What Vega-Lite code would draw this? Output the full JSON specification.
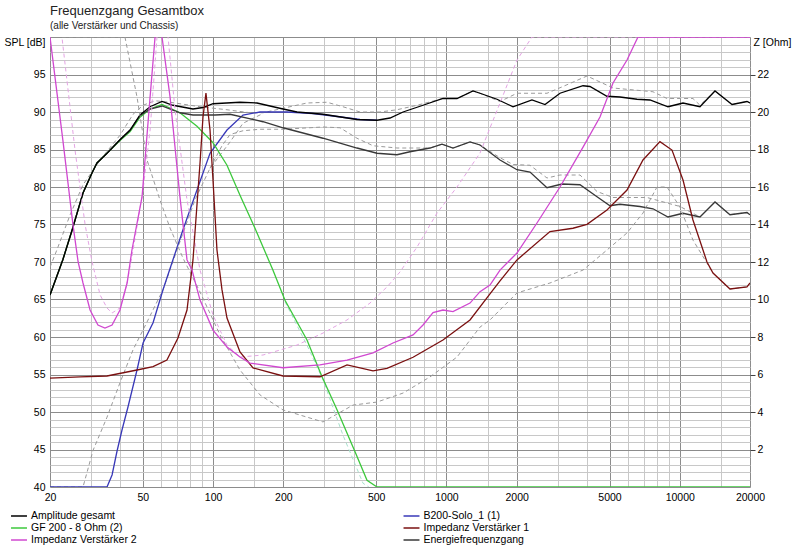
{
"$schema":"https://vega.github.io/schema/vega-lite/v6.json",
"width":700,"height":450,
"autosize":{"type":"none"},
"padding":{"left":50,"top":37,"right":50,"bottom":67},
"background":"white",
"title":{"text":"Frequenzgang Gesamtbox","subtitle":"(alle Verstärker und Chassis)","anchor":"start","frame":"group","font":"Liberation Sans","fontSize":13,"fontWeight":"normal","color":"#222222","subtitleFont":"Liberation Sans","subtitleFontSize":10,"subtitleColor":"#222222","offset":6,"subtitlePadding":3},
"datasets":{
"spl":[
{"curve":"Vergleich 1","freq":20,"level":69.3},{"curve":"Vergleich 1","freq":21.4,"level":71.6},{"curve":"Vergleich 1","freq":24.4,"level":76.3},{"curve":"Vergleich 1","freq":27.7,"level":80.3},{"curve":"Vergleich 1","freq":32.8,"level":83.6},{"curve":"Vergleich 1","freq":39.9,"level":86.9},{"curve":"Vergleich 1","freq":45.4,"level":89.7},{"curve":"Vergleich 1","freq":50.1,"level":90.9},{"curve":"Vergleich 1","freq":56.4,"level":91.5},{"curve":"Vergleich 1","freq":65.4,"level":91.3},{"curve":"Vergleich 1","freq":87.9,"level":90.7},{"curve":"Vergleich 1","freq":114.7,"level":90.3},{"curve":"Vergleich 1","freq":143.9,"level":89.9},{"curve":"Vergleich 1","freq":163.7,"level":89.9},{"curve":"Vergleich 1","freq":199.4,"level":90.5},{"curve":"Vergleich 1","freq":252.6,"level":91.2},{"curve":"Vergleich 1","freq":307.8,"level":91.3},{"curve":"Vergleich 1","freq":360.4,"level":90.7},{"curve":"Vergleich 1","freq":426.3,"level":90.0},{"curve":"Vergleich 1","freq":519.3,"level":90.0},{"curve":"Vergleich 1","freq":613.9,"level":90.3},{"curve":"Vergleich 1","freq":748.3,"level":90.9},{"curve":"Vergleich 1","freq":966.5,"level":91.8},{"curve":"Vergleich 1","freq":1110,"level":91.8},{"curve":"Vergleich 1","freq":1300,"level":92.8},{"curve":"Vergleich 1","freq":1393,"level":92.5},{"curve":"Vergleich 1","freq":1697,"level":91.4},{"curve":"Vergleich 1","freq":2006,"level":92.5},{"curve":"Vergleich 1","freq":2698,"level":92.5},{"curve":"Vergleich 1","freq":3158,"level":93.4},{"curve":"Vergleich 1","freq":4004,"level":94.8},{"curve":"Vergleich 1","freq":5176,"level":93.2},{"curve":"Vergleich 1","freq":7678,"level":92.7},{"curve":"Vergleich 1","freq":8818,"level":91.8},{"curve":"Vergleich 1","freq":11392,"level":91.8},{"curve":"Vergleich 1","freq":12206,"level":90.9},{"curve":"Vergleich 1","freq":14158,"level":92.8},{"curve":"Vergleich 1","freq":16750,"level":91.0},{"curve":"Vergleich 1","freq":19414,"level":91.4},{"curve":"Vergleich 1","freq":20000,"level":91.2},
{"curve":"Vergleich 2","freq":20,"level":40},{"curve":"Vergleich 2","freq":27.7,"level":40},{"curve":"Vergleich 2","freq":30.6,"level":44.9},{"curve":"Vergleich 2","freq":35.1,"level":49.3},{"curve":"Vergleich 2","freq":39.9,"level":53.9},{"curve":"Vergleich 2","freq":45.4,"level":58.3},{"curve":"Vergleich 2","freq":52.1,"level":62.0},{"curve":"Vergleich 2","freq":61.0,"level":66.3},{"curve":"Vergleich 2","freq":70.0,"level":71.6},{"curve":"Vergleich 2","freq":83.7,"level":78.3},{"curve":"Vergleich 2","freq":97,"level":82.5},{"curve":"Vergleich 2","freq":109.2,"level":84.6},{"curve":"Vergleich 2","freq":118.2,"level":86.0},{"curve":"Vergleich 2","freq":134.3,"level":88.5},{"curve":"Vergleich 2","freq":163.7,"level":89.8},
{"curve":"Vergleich 3","freq":97,"level":82.5},{"curve":"Vergleich 3","freq":109.2,"level":85.5},{"curve":"Vergleich 3","freq":118.2,"level":87.0},{"curve":"Vergleich 3","freq":134.3,"level":87.5},{"curve":"Vergleich 3","freq":158.9,"level":87.7},{"curve":"Vergleich 3","freq":199.4,"level":87.7},{"curve":"Vergleich 3","freq":295.8,"level":88.0},{"curve":"Vergleich 3","freq":350,"level":87.9},{"curve":"Vergleich 3","freq":413.8,"level":86.5},{"curve":"Vergleich 3","freq":484.6,"level":85.5},{"curve":"Vergleich 3","freq":613.9,"level":85.2},{"curve":"Vergleich 3","freq":748.3,"level":85.2},{"curve":"Vergleich 3","freq":849.9,"level":85.2},{"curve":"Vergleich 3","freq":957.2,"level":85.7},{"curve":"Vergleich 3","freq":1067,"level":85.2},{"curve":"Vergleich 3","freq":1262,"level":86.0},{"curve":"Vergleich 3","freq":1393,"level":85.6},{"curve":"Vergleich 3","freq":1697,"level":83.9},{"curve":"Vergleich 3","freq":1929,"level":83.0},{"curve":"Vergleich 3","freq":2281,"level":82.9},{"curve":"Vergleich 3","freq":2698,"level":81.2},{"curve":"Vergleich 3","freq":3067,"level":81.6},{"curve":"Vergleich 3","freq":3736,"level":81.6},{"curve":"Vergleich 3","freq":4420,"level":79.4},{"curve":"Vergleich 3","freq":5176,"level":78.6},{"curve":"Vergleich 3","freq":7238,"level":78.6},{"curve":"Vergleich 3","freq":10020,"level":77.4},{"curve":"Vergleich 3","freq":12206,"level":76.0},{"curve":"Vergleich 3","freq":14158,"level":78.0},{"curve":"Vergleich 3","freq":16412,"level":76.3},{"curve":"Vergleich 3","freq":19414,"level":76.6},{"curve":"Vergleich 3","freq":20000,"level":76.3},
{"curve":"Vergleich GF","freq":203.3,"level":64.7},{"curve":"Vergleich GF","freq":252.6,"level":58.9},{"curve":"Vergleich GF","freq":295.8,"level":54.3},{"curve":"Vergleich GF","freq":360.4,"level":46.9},{"curve":"Vergleich GF","freq":439.1,"level":40.5},{"curve":"Vergleich GF","freq":465,"level":40},
{"curve":"B200-Solo_1 (1)","freq":20,"level":40},{"curve":"B200-Solo_1 (1)","freq":35.1,"level":40},{"curve":"B200-Solo_1 (1)","freq":36.9,"level":41.6},{"curve":"B200-Solo_1 (1)","freq":38.7,"level":44.7},{"curve":"B200-Solo_1 (1)","freq":40.7,"level":47.6},{"curve":"B200-Solo_1 (1)","freq":43.2,"level":50.7},{"curve":"B200-Solo_1 (1)","freq":47.2,"level":55.6},{"curve":"B200-Solo_1 (1)","freq":50.1,"level":59.2},{"curve":"B200-Solo_1 (1)","freq":55.3,"level":61.9},{"curve":"B200-Solo_1 (1)","freq":61.0,"level":66.3},{"curve":"B200-Solo_1 (1)","freq":67.3,"level":70.3},{"curve":"B200-Solo_1 (1)","freq":74.3,"level":74.3},{"curve":"B200-Solo_1 (1)","freq":85.3,"level":79.6},{"curve":"B200-Solo_1 (1)","freq":97,"level":84.5},{"curve":"B200-Solo_1 (1)","freq":114.7,"level":87.6},{"curve":"B200-Solo_1 (1)","freq":134.3,"level":89.6},{"curve":"B200-Solo_1 (1)","freq":158.9,"level":90.0},{"curve":"B200-Solo_1 (1)","freq":207.4,"level":90.0},{"curve":"B200-Solo_1 (1)","freq":268.1,"level":89.8},{"curve":"B200-Solo_1 (1)","freq":339.7,"level":89.4},{"curve":"B200-Solo_1 (1)","freq":426.3,"level":89.0},{"curve":"B200-Solo_1 (1)","freq":504,"level":88.9},
{"curve":"GF 200 - 8 Ohm (2)","freq":20,"level":65.6},{"curve":"GF 200 - 8 Ohm (2)","freq":22.7,"level":70.3},{"curve":"GF 200 - 8 Ohm (2)","freq":24.9,"level":74.3},{"curve":"GF 200 - 8 Ohm (2)","freq":27.7,"level":79.2},{"curve":"GF 200 - 8 Ohm (2)","freq":30.3,"level":81.9},{"curve":"GF 200 - 8 Ohm (2)","freq":31.8,"level":83.2},{"curve":"GF 200 - 8 Ohm (2)","freq":35.1,"level":84.5},{"curve":"GF 200 - 8 Ohm (2)","freq":39.9,"level":86.2},{"curve":"GF 200 - 8 Ohm (2)","freq":44.1,"level":87.4},{"curve":"GF 200 - 8 Ohm (2)","freq":48.6,"level":89.3},{"curve":"GF 200 - 8 Ohm (2)","freq":53.7,"level":90.4},{"curve":"GF 200 - 8 Ohm (2)","freq":60.4,"level":91.0},{"curve":"GF 200 - 8 Ohm (2)","freq":72.1,"level":89.9},{"curve":"GF 200 - 8 Ohm (2)","freq":85.3,"level":88.1},{"curve":"GF 200 - 8 Ohm (2)","freq":99.9,"level":85.9},{"curve":"GF 200 - 8 Ohm (2)","freq":114.7,"level":82.9},{"curve":"GF 200 - 8 Ohm (2)","freq":130.4,"level":78.9},{"curve":"GF 200 - 8 Ohm (2)","freq":151.2,"level":74.5},{"curve":"GF 200 - 8 Ohm (2)","freq":180.6,"level":68.9},{"curve":"GF 200 - 8 Ohm (2)","freq":203.3,"level":64.9},{"curve":"GF 200 - 8 Ohm (2)","freq":252.6,"level":59.6},{"curve":"GF 200 - 8 Ohm (2)","freq":293,"level":54.7},{"curve":"GF 200 - 8 Ohm (2)","freq":339.7,"level":50.3},{"curve":"GF 200 - 8 Ohm (2)","freq":405.8,"level":44.7},{"curve":"GF 200 - 8 Ohm (2)","freq":456.8,"level":40.9},{"curve":"GF 200 - 8 Ohm (2)","freq":504,"level":40},{"curve":"GF 200 - 8 Ohm (2)","freq":20000,"level":40},
{"curve":"Energiefrequenzgang","freq":20,"level":65.6},{"curve":"Energiefrequenzgang","freq":22.7,"level":70.3},{"curve":"Energiefrequenzgang","freq":24.9,"level":74.3},{"curve":"Energiefrequenzgang","freq":27.7,"level":79.2},{"curve":"Energiefrequenzgang","freq":30.3,"level":81.9},{"curve":"Energiefrequenzgang","freq":31.8,"level":83.2},{"curve":"Energiefrequenzgang","freq":35.1,"level":84.5},{"curve":"Energiefrequenzgang","freq":39.9,"level":86.3},{"curve":"Energiefrequenzgang","freq":44.1,"level":87.6},{"curve":"Energiefrequenzgang","freq":48.6,"level":89.5},{"curve":"Energiefrequenzgang","freq":53.7,"level":90.4},{"curve":"Energiefrequenzgang","freq":60.4,"level":90.8},{"curve":"Energiefrequenzgang","freq":72.1,"level":89.9},{"curve":"Energiefrequenzgang","freq":82,"level":89.6},{"curve":"Energiefrequenzgang","freq":101.9,"level":89.6},{"curve":"Energiefrequenzgang","freq":118.2,"level":89.7},{"curve":"Energiefrequenzgang","freq":163.7,"level":88.7},{"curve":"Energiefrequenzgang","freq":199.4,"level":87.9},{"curve":"Energiefrequenzgang","freq":295.8,"level":86.5},{"curve":"Energiefrequenzgang","freq":413.8,"level":85.2},{"curve":"Energiefrequenzgang","freq":504,"level":84.5},{"curve":"Energiefrequenzgang","freq":613.9,"level":84.3},{"curve":"Energiefrequenzgang","freq":697.9,"level":84.7},{"curve":"Energiefrequenzgang","freq":849.9,"level":85.2},{"curve":"Energiefrequenzgang","freq":957.2,"level":85.7},{"curve":"Energiefrequenzgang","freq":1067,"level":85.2},{"curve":"Energiefrequenzgang","freq":1262,"level":86.0},{"curve":"Energiefrequenzgang","freq":1393,"level":85.6},{"curve":"Energiefrequenzgang","freq":1697,"level":83.6},{"curve":"Energiefrequenzgang","freq":2006,"level":82.3},{"curve":"Energiefrequenzgang","freq":2281,"level":82.0},{"curve":"Energiefrequenzgang","freq":2698,"level":79.9},{"curve":"Energiefrequenzgang","freq":3128,"level":80.4},{"curve":"Energiefrequenzgang","freq":3736,"level":80.3},{"curve":"Energiefrequenzgang","freq":4420,"level":78.7},{"curve":"Energiefrequenzgang","freq":5023,"level":77.5},{"curve":"Energiefrequenzgang","freq":5543,"level":77.7},{"curve":"Energiefrequenzgang","freq":6752,"level":77.4},{"curve":"Energiefrequenzgang","freq":7678,"level":77.1},{"curve":"Energiefrequenzgang","freq":8906,"level":76.0},{"curve":"Energiefrequenzgang","freq":10326,"level":76.5},{"curve":"Energiefrequenzgang","freq":12206,"level":76.0},{"curve":"Energiefrequenzgang","freq":14158,"level":78.0},{"curve":"Energiefrequenzgang","freq":16412,"level":76.3},{"curve":"Energiefrequenzgang","freq":19414,"level":76.6},{"curve":"Energiefrequenzgang","freq":20000,"level":76.3},
{"curve":"Amplitude gesamt","freq":20,"level":65.6},{"curve":"Amplitude gesamt","freq":22.7,"level":70.3},{"curve":"Amplitude gesamt","freq":24.9,"level":74.3},{"curve":"Amplitude gesamt","freq":27.7,"level":79.2},{"curve":"Amplitude gesamt","freq":30.3,"level":81.9},{"curve":"Amplitude gesamt","freq":31.8,"level":83.2},{"curve":"Amplitude gesamt","freq":35.1,"level":84.5},{"curve":"Amplitude gesamt","freq":39.9,"level":86.3},{"curve":"Amplitude gesamt","freq":44.1,"level":87.6},{"curve":"Amplitude gesamt","freq":48.6,"level":89.6},{"curve":"Amplitude gesamt","freq":53.7,"level":90.7},{"curve":"Amplitude gesamt","freq":60.4,"level":91.4},{"curve":"Amplitude gesamt","freq":67.3,"level":90.9},{"curve":"Amplitude gesamt","freq":82,"level":90.4},{"curve":"Amplitude gesamt","freq":90.5,"level":90.6},{"curve":"Amplitude gesamt","freq":99.9,"level":91.1},{"curve":"Amplitude gesamt","freq":130.4,"level":91.3},{"curve":"Amplitude gesamt","freq":154.2,"level":91.2},{"curve":"Amplitude gesamt","freq":199.4,"level":90.4},{"curve":"Amplitude gesamt","freq":228.9,"level":90.0},{"curve":"Amplitude gesamt","freq":295.8,"level":89.7},{"curve":"Amplitude gesamt","freq":413.8,"level":89.0},{"curve":"Amplitude gesamt","freq":504,"level":88.9},{"curve":"Amplitude gesamt","freq":573.1,"level":89.2},{"curve":"Amplitude gesamt","freq":651.8,"level":90.0},{"curve":"Amplitude gesamt","freq":793.8,"level":90.9},{"curve":"Amplitude gesamt","freq":966.5,"level":91.8},{"curve":"Amplitude gesamt","freq":1110,"level":91.8},{"curve":"Amplitude gesamt","freq":1300,"level":92.8},{"curve":"Amplitude gesamt","freq":1393,"level":92.5},{"curve":"Amplitude gesamt","freq":1647,"level":91.7},{"curve":"Amplitude gesamt","freq":1929,"level":90.7},{"curve":"Amplitude gesamt","freq":2326,"level":91.6},{"curve":"Amplitude gesamt","freq":2646,"level":91.0},{"curve":"Amplitude gesamt","freq":3067,"level":92.5},{"curve":"Amplitude gesamt","freq":3850,"level":93.5},{"curve":"Amplitude gesamt","freq":4121,"level":93.4},{"curve":"Amplitude gesamt","freq":4876,"level":92.1},{"curve":"Amplitude gesamt","freq":5543,"level":92.0},{"curve":"Amplitude gesamt","freq":6558,"level":91.7},{"curve":"Amplitude gesamt","freq":7452,"level":91.6},{"curve":"Amplitude gesamt","freq":8906,"level":90.7},{"curve":"Amplitude gesamt","freq":10326,"level":91.2},{"curve":"Amplitude gesamt","freq":12206,"level":90.7},{"curve":"Amplitude gesamt","freq":14158,"level":92.8},{"curve":"Amplitude gesamt","freq":16750,"level":91.0},{"curve":"Amplitude gesamt","freq":19414,"level":91.4},{"curve":"Amplitude gesamt","freq":20000,"level":91.2}
],
"imp":[
{"curve":"Vergleich Z1","freq":22.5,"z":24},{"curve":"Vergleich Z1","freq":41.1,"z":24},{"curve":"Vergleich Z1","freq":41.9,"z":24},{"curve":"Vergleich Z1","freq":47.2,"z":20.8},{"curve":"Vergleich Z1","freq":52.1,"z":17.44},{"curve":"Vergleich Z1","freq":59.2,"z":15.31},{"curve":"Vergleich Z1","freq":65.4,"z":13.81},{"curve":"Vergleich Z1","freq":74.3,"z":12.21},{"curve":"Vergleich Z1","freq":87.9,"z":10.4},{"curve":"Vergleich Z1","freq":107.1,"z":8.11},{"curve":"Vergleich Z1","freq":130.4,"z":6.24},{"curve":"Vergleich Z1","freq":158.9,"z":4.91},{"curve":"Vergleich Z1","freq":199.4,"z":4.11},{"curve":"Vergleich Z1","freq":295.8,"z":3.47},{"curve":"Vergleich Z1","freq":397.9,"z":4.37},{"curve":"Vergleich Z1","freq":504,"z":4.53},{"curve":"Vergleich Z1","freq":651.8,"z":5.01},{"curve":"Vergleich Z1","freq":849.9,"z":5.87},{"curve":"Vergleich Z1","freq":1110,"z":6.93},{"curve":"Vergleich Z1","freq":1393,"z":8.53},{"curve":"Vergleich Z1","freq":1537,"z":8.91},{"curve":"Vergleich Z1","freq":2006,"z":10.35},{"curve":"Vergleich Z1","freq":2778,"z":10.88},{"curve":"Vergleich Z1","freq":3850,"z":11.57},{"curve":"Vergleich Z1","freq":4876,"z":12.64},{"curve":"Vergleich Z1","freq":5942,"z":13.55},{"curve":"Vergleich Z1","freq":6956,"z":14.61},{"curve":"Vergleich Z1","freq":7988,"z":16.0},{"curve":"Vergleich Z1","freq":8818,"z":16.0},{"curve":"Vergleich Z1","freq":10020,"z":14.93},{"curve":"Vergleich Z1","freq":11392,"z":13.17},{"curve":"Vergleich Z1","freq":13882,"z":11.41},{"curve":"Vergleich Z1","freq":16412,"z":10.56},{"curve":"Vergleich Z1","freq":19414,"z":10.67},{"curve":"Vergleich Z1","freq":20000,"z":10.88},
{"curve":"Vergleich Z2","freq":20,"z":26},{"curve":"Vergleich Z2","freq":22.5,"z":24},{"curve":"Vergleich Z2","freq":25.6,"z":17.97},{"curve":"Vergleich Z2","freq":28.3,"z":13.97},{"curve":"Vergleich Z2","freq":30.3,"z":12.0},{"curve":"Vergleich Z2","freq":32.8,"z":10.24},{"curve":"Vergleich Z2","freq":35.1,"z":9.55},{"curve":"Vergleich Z2","freq":36.9,"z":9.28},{"curve":"Vergleich Z2","freq":39.9,"z":9.55},{"curve":"Vergleich Z2","freq":42.8,"z":10.88},{"curve":"Vergleich Z2","freq":45.4,"z":12.64},{"curve":"Vergleich Z2","freq":50.1,"z":15.84},{"curve":"Vergleich Z2","freq":53.7,"z":19.04},{"curve":"Vergleich Z2","freq":57.5,"z":24.0},{"curve":"Vergleich Z2","freq":60.4,"z":26},{"curve":"Vergleich Z2","freq":64.1,"z":24.0},{"curve":"Vergleich Z2","freq":68.7,"z":20.11},{"curve":"Vergleich Z2","freq":77.3,"z":15.31},{"curve":"Vergleich Z2","freq":87.9,"z":11.57},{"curve":"Vergleich Z2","freq":99.9,"z":9.17},{"curve":"Vergleich Z2","freq":114.7,"z":7.57},{"curve":"Vergleich Z2","freq":130.4,"z":6.93},{"curve":"Vergleich Z2","freq":163.7,"z":7.04},{"curve":"Vergleich Z2","freq":228.9,"z":7.57},{"curve":"Vergleich Z2","freq":295.8,"z":8.21},{"curve":"Vergleich Z2","freq":375,"z":8.91},{"curve":"Vergleich Z2","freq":470.4,"z":9.81},{"curve":"Vergleich Z2","freq":556.3,"z":10.67},{"curve":"Vergleich Z2","freq":632.5,"z":11.47},{"curve":"Vergleich Z2","freq":748.3,"z":12.8},{"curve":"Vergleich Z2","freq":911.4,"z":14.61},{"curve":"Vergleich Z2","freq":1110,"z":16.0},{"curve":"Vergleich Z2","freq":1393,"z":17.81},{"curve":"Vergleich Z2","freq":1537,"z":19.15},{"curve":"Vergleich Z2","freq":1697,"z":20.48},{"curve":"Vergleich Z2","freq":2006,"z":22.77},{"curve":"Vergleich Z2","freq":2326,"z":24.0},{"curve":"Vergleich Z2","freq":20000,"z":24.0},
{"curve":"Impedanz Verstärker 1","freq":20,"z":5.81},{"curve":"Impedanz Verstärker 1","freq":26.9,"z":5.87},{"curve":"Impedanz Verstärker 1","freq":35.1,"z":5.92},{"curve":"Impedanz Verstärker 1","freq":47.2,"z":6.24},{"curve":"Impedanz Verstärker 1","freq":55.3,"z":6.42},{"curve":"Impedanz Verstärker 1","freq":63.4,"z":6.77},{"curve":"Impedanz Verstärker 1","freq":70.7,"z":7.95},{"curve":"Impedanz Verstärker 1","freq":77.3,"z":9.44},{"curve":"Impedanz Verstärker 1","freq":82,"z":12.11},{"curve":"Impedanz Verstärker 1","freq":87.9,"z":17.28},{"curve":"Impedanz Verstärker 1","freq":90.5,"z":19.73},{"curve":"Impedanz Verstärker 1","freq":93.2,"z":21.01},{"curve":"Impedanz Verstärker 1","freq":97,"z":19.04},{"curve":"Impedanz Verstärker 1","freq":99.9,"z":16.37},{"curve":"Impedanz Verstärker 1","freq":103.9,"z":12.64},{"curve":"Impedanz Verstärker 1","freq":109.2,"z":10.51},{"curve":"Impedanz Verstärker 1","freq":114.7,"z":9.01},{"curve":"Impedanz Verstärker 1","freq":130.4,"z":7.2},{"curve":"Impedanz Verstärker 1","freq":148.3,"z":6.35},{"curve":"Impedanz Verstärker 1","freq":199.4,"z":5.92},{"curve":"Impedanz Verstärker 1","freq":287.2,"z":5.88},{"curve":"Impedanz Verstärker 1","freq":375,"z":6.51},{"curve":"Impedanz Verstärker 1","freq":484.6,"z":6.19},{"curve":"Impedanz Verstärker 1","freq":556.3,"z":6.33},{"curve":"Impedanz Verstärker 1","freq":719.3,"z":6.92},{"curve":"Impedanz Verstärker 1","freq":966.5,"z":7.84},{"curve":"Impedanz Verstärker 1","freq":1262,"z":8.91},{"curve":"Impedanz Verstärker 1","freq":1537,"z":10.3},{"curve":"Impedanz Verstärker 1","freq":1697,"z":10.99},{"curve":"Impedanz Verstärker 1","freq":2006,"z":12.11},{"curve":"Impedanz Verstärker 1","freq":2778,"z":13.62},{"curve":"Impedanz Verstärker 1","freq":3486,"z":13.8},{"curve":"Impedanz Verstärker 1","freq":4004,"z":14.01},{"curve":"Impedanz Verstärker 1","freq":4876,"z":14.77},{"curve":"Impedanz Verstärker 1","freq":5942,"z":15.84},{"curve":"Impedanz Verstärker 1","freq":6956,"z":17.44},{"curve":"Impedanz Verstärker 1","freq":8225,"z":18.42},{"curve":"Impedanz Verstärker 1","freq":9262,"z":17.97},{"curve":"Impedanz Verstärker 1","freq":10326,"z":16.37},{"curve":"Impedanz Verstärker 1","freq":11392,"z":14.24},{"curve":"Impedanz Verstärker 1","freq":13084,"z":12.0},{"curve":"Impedanz Verstärker 1","freq":13882,"z":11.41},{"curve":"Impedanz Verstärker 1","freq":16412,"z":10.56},{"curve":"Impedanz Verstärker 1","freq":19414,"z":10.67},{"curve":"Impedanz Verstärker 1","freq":20000,"z":10.88},
{"curve":"Impedanz Verstärker 2","freq":20,"z":24.0},{"curve":"Impedanz Verstärker 2","freq":22.7,"z":18.51},{"curve":"Impedanz Verstärker 2","freq":25.1,"z":13.97},{"curve":"Impedanz Verstärker 2","freq":26.4,"z":12.0},{"curve":"Impedanz Verstärker 2","freq":27.7,"z":10.88},{"curve":"Impedanz Verstärker 2","freq":29.7,"z":9.44},{"curve":"Impedanz Verstärker 2","freq":32.1,"z":8.64},{"curve":"Impedanz Verstärker 2","freq":34.4,"z":8.48},{"curve":"Impedanz Verstärker 2","freq":36.9,"z":8.64},{"curve":"Impedanz Verstärker 2","freq":39.9,"z":9.44},{"curve":"Impedanz Verstärker 2","freq":42.8,"z":10.88},{"curve":"Impedanz Verstärker 2","freq":44.9,"z":12.64},{"curve":"Impedanz Verstärker 2","freq":49.6,"z":15.47},{"curve":"Impedanz Verstärker 2","freq":53.7,"z":20.8},{"curve":"Impedanz Verstärker 2","freq":56.4,"z":24.0},{"curve":"Impedanz Verstärker 2","freq":58.1,"z":27},{"curve":"Impedanz Verstärker 2","freq":60.4,"z":24.0},{"curve":"Impedanz Verstärker 2","freq":65.4,"z":20.8},{"curve":"Impedanz Verstärker 2","freq":72.1,"z":15.47},{"curve":"Impedanz Verstärker 2","freq":77.3,"z":12.11},{"curve":"Impedanz Verstärker 2","freq":81.2,"z":11.57},{"curve":"Impedanz Verstärker 2","freq":87.9,"z":9.97},{"curve":"Impedanz Verstärker 2","freq":99.9,"z":8.37},{"curve":"Impedanz Verstärker 2","freq":114.7,"z":7.47},{"curve":"Impedanz Verstärker 2","freq":130.4,"z":6.93},{"curve":"Impedanz Verstärker 2","freq":143.9,"z":6.61},{"curve":"Impedanz Verstärker 2","freq":199.4,"z":6.36},{"curve":"Impedanz Verstärker 2","freq":287.2,"z":6.51},{"curve":"Impedanz Verstärker 2","freq":375,"z":6.77},{"curve":"Impedanz Verstärker 2","freq":484.6,"z":7.15},{"curve":"Impedanz Verstärker 2","freq":590.2,"z":7.68},{"curve":"Impedanz Verstärker 2","freq":719.3,"z":8.11},{"curve":"Impedanz Verstärker 2","freq":793.8,"z":8.64},{"curve":"Impedanz Verstärker 2","freq":876,"z":9.3},{"curve":"Impedanz Verstärker 2","freq":966.5,"z":9.44},{"curve":"Impedanz Verstärker 2","freq":1067,"z":9.35},{"curve":"Impedanz Verstärker 2","freq":1262,"z":9.81},{"curve":"Impedanz Verstärker 2","freq":1393,"z":10.42},{"curve":"Impedanz Verstärker 2","freq":1537,"z":10.77},{"curve":"Impedanz Verstärker 2","freq":1697,"z":11.57},{"curve":"Impedanz Verstärker 2","freq":2006,"z":12.48},{"curve":"Impedanz Verstärker 2","freq":2444,"z":14.08},{"curve":"Impedanz Verstärker 2","freq":3067,"z":16.0},{"curve":"Impedanz Verstärker 2","freq":3850,"z":18.13},{"curve":"Impedanz Verstärker 2","freq":4551,"z":19.73},{"curve":"Impedanz Verstärker 2","freq":5176,"z":21.55},{"curve":"Impedanz Verstärker 2","freq":5942,"z":22.77},{"curve":"Impedanz Verstärker 2","freq":6622,"z":24.0},{"curve":"Impedanz Verstärker 2","freq":20000,"z":24.0}
]
},
"layer":[
{
"data":{"name":"spl"},
"encoding":{
"x":{"field":"freq","type":"quantitative","scale":{"type":"log","domain":[20,20000],"nice":false},
"axis":{"values":[20,30,40,50,60,70,80,90,100,150,200,300,400,500,600,700,800,900,1000,1500,2000,3000,4000,5000,6000,7000,8000,9000,10000,15000,20000],"format":"d","labelExpr":"indexof([20,50,100,200,500,1000,2000,5000,10000,20000], datum.value) >= 0 ? datum.label : ''","grid":true,"gridColor":{"condition":{"test":"indexof([20,50,100,200,500,1000,2000,5000,10000,20000], datum.value) >= 0","value":"#8c8c8c"},"value":"#c8c8c8"},"ticks":false,"domain":false,"labelPadding":5,"labelOverlap":false,"labelFlush":false,"labelBound":false,"title":null}},
"y":{"field":"level","type":"quantitative","scale":{"domain":[40,100],"nice":false,"zero":false},
"axis":{"values":[40,41,42,43,44,45,46,47,48,49,50,51,52,53,54,55,56,57,58,59,60,61,62,63,64,65,66,67,68,69,70,71,72,73,74,75,76,77,78,79,80,81,82,83,84,85,86,87,88,89,90,91,92,93,94,95,96,97,98,99,100],"grid":true,"gridColor":{"condition":{"test":"datum.value % 5 === 0","value":"#8c8c8c"},"value":"#c8c8c8"},"labelExpr":"datum.value === 100 ? 'SPL [dB]' : (datum.value % 5 === 0 ? datum.label : '')","labelBaseline":{"condition":{"test":"datum.value === 100","value":"top"},"value":"middle"},"ticks":false,"domain":false,"labelPadding":5,"labelOverlap":false,"labelFlush":false,"title":null}}
},
"layer":[
{"transform":[{"filter":{"field":"curve","oneOf":["Vergleich 1","Vergleich 2","Vergleich 3"]}}],"mark":{"type":"line","clip":true,"color":"#9a9a9a","strokeWidth":1,"strokeDash":[4,3]},"encoding":{"detail":{"field":"curve","type":"nominal"}}},
{"transform":[{"filter":{"field":"curve","equal":"Vergleich GF"}}],"mark":{"type":"line","clip":true,"color":"#a8e0cc","strokeWidth":1,"strokeDash":[4,3]},"encoding":{}},
{"transform":[{"filter":{"field":"curve","oneOf":["B200-Solo_1 (1)","GF 200 - 8 Ohm (2)","Energiefrequenzgang","Amplitude gesamt"]}}],"mark":{"type":"line","clip":true,"strokeWidth":1.3},
"encoding":{"color":{"field":"curve","type":"nominal","scale":{"domain":["Amplitude gesamt","GF 200 - 8 Ohm (2)","Impedanz Verstärker 2","B200-Solo_1 (1)","Impedanz Verstärker 1","Energiefrequenzgang"],"range":["#000000","#3cc83c","#d048d0","#3838b8","#7a1010","#383838"]},
"legend":{"orient":"none","legendX":-37.5,"legendY":472.5,"columns":2,"columnPadding":262.5,"rowPadding":0,"symbolType":"M-1.45,0L1.45,0","symbolSize":121,"symbolStrokeWidth":1.5,"labelFont":"Liberation Sans","labelFontSize":10.5,"labelColor":"#000000","labelOffset":5.5,"title":null}}}}
]
},
{
"data":{"name":"imp"},
"encoding":{
"x":{"field":"freq","type":"quantitative","scale":{"type":"log","domain":[20,20000],"nice":false},
"axis":{"values":[20,30,40,50,60,70,80,90,100,150,200,300,400,500,600,700,800,900,1000,1500,2000,3000,4000,5000,6000,7000,8000,9000,10000,15000,20000],"format":"d","labelExpr":"indexof([20,50,100,200,500,1000,2000,5000,10000,20000], datum.value) >= 0 ? datum.label : ''","grid":true,"gridColor":{"condition":{"test":"indexof([20,50,100,200,500,1000,2000,5000,10000,20000], datum.value) >= 0","value":"#8c8c8c"},"value":"#c8c8c8"},"ticks":false,"domain":false,"labelPadding":5,"labelOverlap":false,"labelFlush":false,"labelBound":false,"title":null}},
"y":{"field":"z","type":"quantitative","scale":{"domain":[0,24],"nice":false},
"axis":{"orient":"right","values":[0,2,4,6,8,10,12,14,16,18,20,22,24],"grid":false,"labelExpr":"datum.value === 24 ? 'Z [Ohm]' : (datum.value > 0 ? datum.label : '')","labelBaseline":{"condition":{"test":"datum.value === 24","value":"top"},"value":"middle"},"labelPadding":{"condition":{"test":"datum.value === 24","value":-2},"value":2},"tickSize":5,"tickColor":"#404040","tickOpacity":{"condition":{"test":"datum.value === 0 || datum.value === 24","value":0},"value":1},"domain":false,"labelOverlap":false,"labelFlush":false,"title":null}}
},
"layer":[
{"transform":[{"filter":{"field":"curve","equal":"Vergleich Z1"}}],"mark":{"type":"line","clip":true,"color":"#9a9a9a","strokeWidth":1,"strokeDash":[4,3]},"encoding":{}},
{"transform":[{"filter":{"field":"curve","equal":"Vergleich Z2"}}],"mark":{"type":"line","clip":true,"color":"#e4a4e4","strokeWidth":1,"strokeDash":[4,3]},"encoding":{}},
{"transform":[{"filter":{"field":"curve","oneOf":["Impedanz Verstärker 1","Impedanz Verstärker 2"]}}],"mark":{"type":"line","clip":true,"strokeWidth":1.3},
"encoding":{"color":{"field":"curve","type":"nominal","scale":{"domain":["Amplitude gesamt","GF 200 - 8 Ohm (2)","Impedanz Verstärker 2","B200-Solo_1 (1)","Impedanz Verstärker 1","Energiefrequenzgang"],"range":["#000000","#3cc83c","#d048d0","#3838b8","#7a1010","#383838"]},
"legend":{"orient":"none","legendX":-37.5,"legendY":472.5,"columns":2,"columnPadding":262.5,"rowPadding":0,"symbolType":"M-1.45,0L1.45,0","symbolSize":121,"symbolStrokeWidth":1.5,"labelFont":"Liberation Sans","labelFontSize":10.5,"labelColor":"#000000","labelOffset":5.5,"title":null}}}}
]
}
],
"resolve":{"scale":{"y":"independent"}},
"config":{"font":"Liberation Sans","view":{"stroke":null},"axis":{"labelFont":"Liberation Sans","labelFontSize":10.5,"labelColor":"#000000"}}
}
